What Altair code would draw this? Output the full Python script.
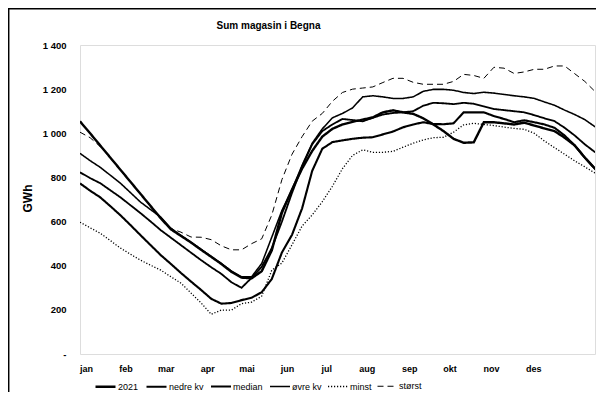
import altair as alt
import pandas as pd

FONT = "Liberation Sans"

weeks = list(range(53))

s2021 = [1054, 1000, 945, 890, 835, 780, 725, 670, 615, 565, 535, 505, 472, 440, 408, 372, 346, 343, 375, 470,
         640, 745, 840, 920, 985, 1020, 1040, 1052, 1062, 1072, 1095, 1104, 1095, 1088, 1068, 1040, 1010, 975, 957, 959,
         1050, 1050, 1045, 1040, 1048, 1035, 1022, 1010, 980, 945, 890, 840, 796]
nedre = [773, 740, 710, 670, 629, 584, 538, 493, 448, 408, 367, 328, 290, 250, 228, 231, 244, 255, 280, 340,
         460, 540, 660, 830, 930, 960, 968, 975, 980, 982, 995, 1008, 1027, 1040, 1050, 1042, 1041, 1045, 1095, 1095,
         1095, 1078, 1065, 1050, 1059, 1050, 1040, 1025, 990, 945, 890, 840, 796]
median = [823, 797, 774, 742, 710, 674, 638, 600, 561, 527, 493, 459, 425, 393, 363, 325, 300, 345, 395, 480,
          600, 730, 850, 950, 1010, 1040, 1065, 1060, 1054, 1070, 1085, 1092, 1095, 1100, 1125, 1138, 1136, 1132, 1138, 1134,
          1122, 1110, 1105, 1100, 1095, 1082, 1068, 1055, 1025, 990, 950, 915, 891]
ovre = [909, 876, 846, 810, 774, 731, 688, 654, 620, 570, 537, 506, 474, 442, 410, 376, 350, 350, 410, 530,
        650, 745, 855, 955, 1020, 1070, 1090, 1115, 1165, 1170, 1165, 1158, 1158, 1165, 1190, 1199, 1199, 1195, 1185, 1180,
        1186, 1182, 1176, 1170, 1165, 1158, 1142, 1127, 1105, 1085, 1062, 1030, 1004]
minst = [597, 572, 547, 514, 480, 452, 425, 402, 380, 350, 321, 276, 231, 180, 199, 199, 228, 235, 262, 380,
         412, 495, 580, 630, 690, 760, 840, 900, 925, 914, 914, 918, 937, 955, 970, 980, 982, 1005, 1038, 1045,
         1040, 1035, 1028, 1022, 1018, 1000, 965, 935, 905, 875, 848, 820, 796]
storst = [1005, 980, 940, 888, 833, 778, 723, 668, 613, 568, 552, 530, 529, 518, 490, 472, 472, 500, 522, 630,
          790, 905, 985, 1055, 1090, 1145, 1185, 1200, 1205, 1210, 1230, 1249, 1249, 1231, 1222, 1222, 1222, 1235, 1267, 1262,
          1249, 1299, 1295, 1271, 1278, 1290, 1290, 1305, 1305, 1270, 1235, 1190, 1150]

names = ["2021", "nedre kv", "median", "øvre kv", "minst", "størst"]
series = [s2021, nedre, median, ovre, minst, storst]

months = ["jan", "feb", "mar", "apr", "mai", "jun", "jul", "aug", "sep", "okt", "nov", "des"]
month_pos = [0.6, 4.5, 8.5, 12.6, 16.5, 20.5, 24.4, 28.4, 32.6, 36.6, 40.7, 44.9]
y_ticks = [0, 200, 400, 600, 800, 1000, 1200, 1400]

rows = []
for n, vals in zip(names, series):
    for w, v in zip(weeks, vals):
        rows.append({"week": w, "value": v, "serie": n})
df = pd.DataFrame(rows)

month_expr = ""
for p, m in zip(month_pos, months):
    month_expr += f"datum.value == {p} ? '{m}' : "
month_expr += "''"

nb = "\u00a0"
y_expr = f"datum.value == 0 ? '-{nb * 6}' : replace(format(datum.value, ','), ',', ' ')"

W = 515
X_MAX = W / 10.096

legend = alt.Legend(
    title=None, orient="none", legendX=14, legendY=330, direction="horizontal",
    symbolType="stroke", symbolSize=400, symbolStrokeColor="black",
    labelFont=FONT, labelFontSize=9, labelColor="black", labelOffset=1,
    columnPadding=3,
)

lines = alt.Chart(df).mark_line(color="black", clip=True).encode(
    x=alt.X("week:Q", scale=alt.Scale(domain=[0, X_MAX], nice=False, zero=False),
            axis=alt.Axis(values=month_pos, labelExpr=month_expr, title=None, domain=False,
                          ticks=False, grid=False, labelFont=FONT, labelFontSize=9,
                          labelFontWeight="bold", labelColor="black", labelPadding=10)),
    y=alt.Y("value:Q", scale=alt.Scale(domain=[0, 1400], nice=False),
            axis=alt.Axis(values=y_ticks, labelExpr=y_expr, title="GWh", domain=False,
                          ticks=False, grid=False, labelFont=FONT, labelFontSize=9.5,
                          labelFontWeight="bold", labelColor="black", labelPadding=14,
                          titleFont=FONT, titleFontSize=12, titleFontWeight="bold",
                          titleColor="black", titleX=-53, titleY=153, titleAngle=270,
                          titleAlign="center", titleBaseline="middle")),
    strokeDash=alt.StrokeDash("serie:N",
                              scale=alt.Scale(domain=names,
                                              range=[[1, 0], [1, 0], [1, 0], [1, 0], [1.2, 1.8], [6, 4]]),
                              legend=legend),
    strokeWidth=alt.StrokeWidth("serie:N",
                                scale=alt.Scale(domain=names, range=[2.4, 1.0, 1.0, 1.0, 1.2, 2.0]),
                                legend=legend),
)

frame_df = pd.DataFrame({"a": [0]})
frame = alt.Chart(frame_df).mark_rect(filled=False, stroke="black", strokeWidth=1.5).encode(
    x=alt.value(-71.3), x2=alt.value(W + 30), y=alt.value(-36.3), y2=alt.value(420)
)

chart = alt.layer(frame, lines).properties(
    width=W, height=309,
    title=alt.TitleParams("Sum magasin i Begna", font=FONT, fontSize=10, fontWeight="bold",
                          color="black", dx=-69, offset=-23, frame="group"),
    autosize=alt.AutoSizeParams(type="none"),
    padding={"left": 72, "top": 37, "right": 1, "bottom": 38},
).configure_view(stroke=None).configure(font=FONT)

chart.save("out.html", embed_options={"renderer": "svg", "actions": False})
